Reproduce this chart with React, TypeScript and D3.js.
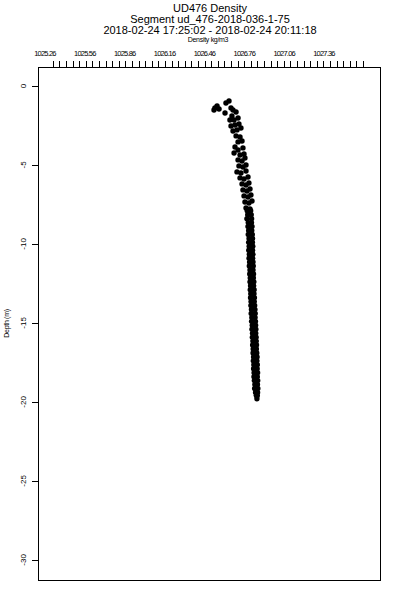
import React, { useEffect, useRef } from "react";
import * as d3 from "d3";

const titleLines = [
  "UD476 Density",
  "Segment ud_476-2018-036-1-75",
  "2018-02-24 17:25:02 - 2018-02-24 20:11:18",
];
const xLabel = "Density kg/m3";
const yLabel = "Depth (m)";

const xTickLabels = [1025.26, 1025.56, 1025.86, 1026.16, 1026.46, 1026.76, 1027.06, 1027.36];
const yTicks = [0, -5, -10, -15, -20, -25, -30];

// [depth m, density kg/m3]
const samples: [number, number][] = [
  [-1.52, 1026.532], [-1.27, 1026.555], [-1.46, 1026.57], [-1.39, 1026.539],
  [-1.08, 1026.622], [-0.95, 1026.645], [-1.71, 1026.615], [-1.39, 1026.66],
  [-1.52, 1026.675], [-1.65, 1026.698], [-1.9, 1026.667], [-2.15, 1026.683],
  [-2.03, 1026.713], [-2.15, 1026.652], [-2.53, 1026.66], [-2.47, 1026.69],
  [-2.41, 1026.72], [-2.85, 1026.675], [-2.78, 1026.705], [-2.66, 1026.735],
  [-3.16, 1026.698], [-3.23, 1026.728], [-3.54, 1026.713], [-3.48, 1026.743],
  [-3.86, 1026.69], [-4.05, 1026.713], [-3.92, 1026.75], [-4.24, 1026.683],
  [-4.37, 1026.728], [-4.3, 1026.758], [-4.68, 1026.713], [-4.75, 1026.743],
  [-4.56, 1026.765], [-5.06, 1026.72], [-5.13, 1026.75], [-5.0, 1026.773],
  [-5.44, 1026.705], [-5.51, 1026.735], [-5.38, 1026.773], [-5.82, 1026.728],
  [-5.89, 1026.758], [-5.76, 1026.788], [-6.2, 1026.743], [-6.27, 1026.773],
  [-6.14, 1026.795], [-6.58, 1026.75], [-6.65, 1026.78], [-6.52, 1026.803],
  [-6.96, 1026.758], [-7.03, 1026.788], [-6.9, 1026.81], [-7.34, 1026.765],
  [-7.41, 1026.795], [-7.28, 1026.818], [-7.72, 1026.773], [-7.78, 1026.803],
  [-7.9, 1026.782], [-7.9, 1026.808], [-8.15, 1026.786], [-8.15, 1026.812],
  [-8.4, 1026.78], [-8.4, 1026.815], [-8.65, 1026.79], [-8.65, 1026.814],
  [-8.9, 1026.788], [-8.9, 1026.818], [-9.15, 1026.793], [-9.15, 1026.816],
  [-9.4, 1026.79], [-9.4, 1026.82], [-9.65, 1026.796], [-9.65, 1026.822],
  [-9.9, 1026.793], [-9.9, 1026.821], [-10.15, 1026.797], [-10.15, 1026.824],
  [-10.4, 1026.794], [-10.4, 1026.822], [-10.65, 1026.798], [-10.65, 1026.825],
  [-10.9, 1026.796], [-10.9, 1026.823], [-11.15, 1026.8], [-11.15, 1026.826],
  [-11.4, 1026.798], [-11.4, 1026.828], [-11.65, 1026.803], [-11.65, 1026.826],
  [-11.9, 1026.801], [-11.9, 1026.83], [-12.15, 1026.805], [-12.15, 1026.829],
  [-12.4, 1026.803], [-12.4, 1026.832], [-12.65, 1026.807], [-12.65, 1026.831],
  [-12.9, 1026.805], [-12.9, 1026.834], [-13.15, 1026.809], [-13.15, 1026.833],
  [-13.4, 1026.807], [-13.4, 1026.836], [-13.65, 1026.811], [-13.65, 1026.835],
  [-13.9, 1026.81], [-13.9, 1026.838], [-14.15, 1026.814], [-14.15, 1026.84],
  [-14.4, 1026.812], [-14.4, 1026.842], [-14.65, 1026.817], [-14.65, 1026.841],
  [-14.9, 1026.815], [-14.9, 1026.844], [-15.15, 1026.82], [-15.15, 1026.845],
  [-15.4, 1026.818], [-15.4, 1026.847], [-15.65, 1026.822], [-15.65, 1026.846],
  [-15.9, 1026.821], [-15.9, 1026.849], [-16.15, 1026.825], [-16.15, 1026.85],
  [-16.4, 1026.823], [-16.4, 1026.852], [-16.65, 1026.827], [-16.65, 1026.851],
  [-16.9, 1026.826], [-16.9, 1026.854], [-17.15, 1026.83], [-17.15, 1026.856],
  [-17.4, 1026.828], [-17.4, 1026.855], [-17.65, 1026.832], [-17.65, 1026.858],
  [-17.9, 1026.83], [-17.9, 1026.857], [-18.15, 1026.834], [-18.15, 1026.86],
  [-18.4, 1026.833], [-18.4, 1026.858], [-18.65, 1026.836], [-18.65, 1026.861],
  [-18.9, 1026.84], [-18.9, 1026.859], [-19.15, 1026.838], [-19.15, 1026.862],
  [-19.4, 1026.845], [-19.4, 1026.86], [-19.6, 1026.85], [-19.6, 1026.858],
  [-19.8, 1026.855],
];

function DensityProfile() {
  const ref = useRef<SVGSVGElement>(null);

  useEffect(() => {
    const width = 400;
    const height = 600;
    const box = { left: 38, right: 380, top: 67, bottom: 580 };
    const font = "'Liberation Sans', Arial, sans-serif";

    const svg = d3.select(ref.current).attr("width", width).attr("height", height);
    svg.selectAll("*").remove();

    const x = d3.scaleLinear().domain([1025.26, 1027.36]).range([45, 324]);
    const y = d3.scaleLinear().domain([1.2, -31.27]).range([box.top, box.bottom]);

    svg.append("rect").attr("width", width).attr("height", height).attr("fill", "white");

    // titles
    svg.selectAll("text.title")
      .data(titleLines)
      .enter()
      .append("text")
      .attr("x", 210)
      .attr("y", (_, i) => 11.5 + i * 11)
      .attr("text-anchor", "middle")
      .attr("font-family", font)
      .attr("font-size", 11)
      .text((d) => d);

    svg.append("text")
      .attr("x", 208)
      .attr("y", 41.5)
      .attr("text-anchor", "middle")
      .attr("font-family", font)
      .attr("font-size", 7)
      .attr("letter-spacing", -0.3)
      .text(xLabel);

    // top axis: labels, then minor ticks
    svg.selectAll("text.xt")
      .data(xTickLabels)
      .enter()
      .append("text")
      .attr("x", (d) => x(d))
      .attr("y", 56)
      .attr("text-anchor", "middle")
      .attr("font-family", font)
      .attr("font-size", 7.5)
      .attr("letter-spacing", -0.8)
      .text((d) => d.toFixed(2));

    const minor = d3.range(48).map((i) => 1025.318 + i * 0.0497);
    svg.append("g")
      .attr("shape-rendering", "crispEdges")
      .selectAll("line")
      .data(minor)
      .enter()
      .append("line")
      .attr("x1", (d) => Math.round(x(d)) + 0.5)
      .attr("x2", (d) => Math.round(x(d)) + 0.5)
      .attr("y1", 61)
      .attr("y2", box.top)
      .attr("stroke", "black");

    // left axis
    const yg = svg.append("g").attr("shape-rendering", "crispEdges");
    yg.selectAll("line")
      .data(yTicks)
      .enter()
      .append("line")
      .attr("x1", box.left - 6)
      .attr("x2", box.left)
      .attr("y1", (d) => Math.round(y(d)) + 0.5)
      .attr("y2", (d) => Math.round(y(d)) + 0.5)
      .attr("stroke", "black");

    svg.selectAll("text.yt")
      .data(yTicks)
      .enter()
      .append("text")
      .attr("transform", (d) => `translate(26,${y(d)}) rotate(-90)`)
      .attr("text-anchor", "middle")
      .attr("font-family", font)
      .attr("font-size", 8)
      .text((d) => String(d));

    svg.append("text")
      .attr("transform", `translate(9,${(box.top + box.bottom) / 2}) rotate(-90)`)
      .attr("text-anchor", "middle")
      .attr("font-family", font)
      .attr("font-size", 7)
      .attr("letter-spacing", -0.3)
      .text(yLabel);

    // frame
    svg.append("rect")
      .attr("x", box.left + 0.5)
      .attr("y", box.top + 0.5)
      .attr("width", box.right - box.left)
      .attr("height", box.bottom - box.top)
      .attr("fill", "none")
      .attr("stroke", "black")
      .attr("shape-rendering", "crispEdges");

    // samples
    svg.append("g")
      .selectAll("circle")
      .data(samples)
      .enter()
      .append("circle")
      .attr("cx", (d) => x(d[1]))
      .attr("cy", (d) => y(d[0]))
      .attr("r", 2.7)
      .attr("fill", "black");
  }, []);

  return <svg ref={ref} style={{ position: "absolute", left: 0, top: 0, display: "block" }}></svg>;
}

export default function App() {
  return <DensityProfile />;
}
